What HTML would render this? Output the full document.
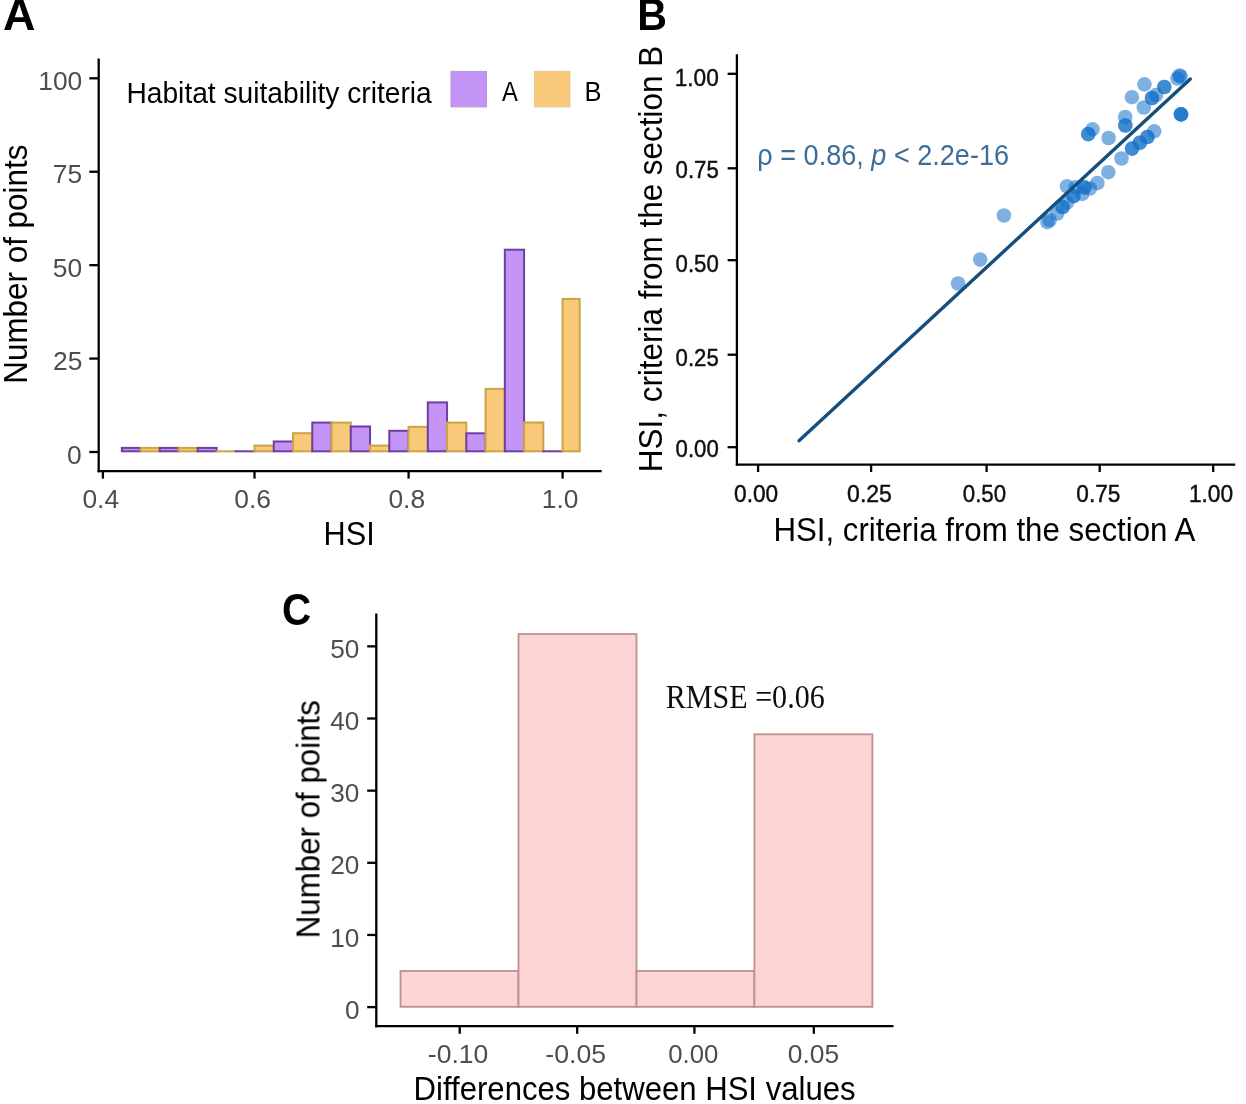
<!DOCTYPE html>
<html><head><meta charset="utf-8"><style>
html,body{margin:0;padding:0;background:#fff;}
svg{display:block;}
</style></head><body>
<svg width="1246" height="1104" viewBox="0 0 1246 1104">
<rect width="1246" height="1104" fill="#fff"/>
<defs><filter id="b" x="0" y="0" width="1" height="1"><feGaussianBlur stdDeviation="0.6"/></filter></defs><g filter="url(#b)"><text transform="translate(2.95 29.60) scale(1.0328 1)" style="font-family:'Liberation Sans', sans-serif;font-size:43.50px;fill:#000;font-weight:bold;">A</text>
<text transform="translate(27.20 383.71) rotate(-90) scale(0.9520 1)" style="font-family:'Liberation Sans', sans-serif;font-size:33.00px;fill:#000;">Number of points</text>
<line x1="98.70" y1="58.40" x2="98.70" y2="472.30" stroke="#000" stroke-width="2.30" stroke-linecap="butt"/>
<line x1="97.60" y1="471.20" x2="601.70" y2="471.20" stroke="#000" stroke-width="2.30" stroke-linecap="butt"/>
<line x1="89.30" y1="452.00" x2="98.70" y2="452.00" stroke="#000" stroke-width="2.30" stroke-linecap="butt"/>
<text transform="translate(67.07 463.60) scale(1.0000 1)" style="font-family:'Liberation Sans', sans-serif;font-size:26.40px;fill:#4d4d4d;">0</text>
<line x1="89.30" y1="358.57" x2="98.70" y2="358.57" stroke="#000" stroke-width="2.30" stroke-linecap="butt"/>
<text transform="translate(52.99 370.18) scale(1.0000 1)" style="font-family:'Liberation Sans', sans-serif;font-size:26.40px;fill:#4d4d4d;">25</text>
<line x1="89.30" y1="265.15" x2="98.70" y2="265.15" stroke="#000" stroke-width="2.30" stroke-linecap="butt"/>
<text transform="translate(52.79 276.75) scale(1.0000 1)" style="font-family:'Liberation Sans', sans-serif;font-size:26.40px;fill:#4d4d4d;">50</text>
<line x1="89.30" y1="171.72" x2="98.70" y2="171.72" stroke="#000" stroke-width="2.30" stroke-linecap="butt"/>
<text transform="translate(52.79 183.32) scale(1.0000 1)" style="font-family:'Liberation Sans', sans-serif;font-size:26.40px;fill:#4d4d4d;">75</text>
<line x1="89.30" y1="78.30" x2="98.70" y2="78.30" stroke="#000" stroke-width="2.30" stroke-linecap="butt"/>
<text transform="translate(38.27 89.90) scale(1.0000 1)" style="font-family:'Liberation Sans', sans-serif;font-size:26.40px;fill:#4d4d4d;">100</text>
<line x1="102.90" y1="471.20" x2="102.90" y2="478.60" stroke="#000" stroke-width="2.30" stroke-linecap="butt"/>
<text transform="translate(82.42 508.30) scale(1.0000 1)" style="font-family:'Liberation Sans', sans-serif;font-size:26.40px;fill:#4d4d4d;">0.4</text>
<line x1="254.50" y1="471.20" x2="254.50" y2="478.60" stroke="#000" stroke-width="2.30" stroke-linecap="butt"/>
<text transform="translate(234.28 508.30) scale(1.0000 1)" style="font-family:'Liberation Sans', sans-serif;font-size:26.40px;fill:#4d4d4d;">0.6</text>
<line x1="408.60" y1="471.20" x2="408.60" y2="478.60" stroke="#000" stroke-width="2.30" stroke-linecap="butt"/>
<text transform="translate(388.38 508.30) scale(1.0000 1)" style="font-family:'Liberation Sans', sans-serif;font-size:26.40px;fill:#4d4d4d;">0.8</text>
<line x1="562.60" y1="471.20" x2="562.60" y2="478.60" stroke="#000" stroke-width="2.30" stroke-linecap="butt"/>
<text transform="translate(541.72 508.30) scale(1.0000 1)" style="font-family:'Liberation Sans', sans-serif;font-size:26.40px;fill:#4d4d4d;">1.0</text>
<text transform="translate(323.55 544.70) scale(0.9293 1)" style="font-family:'Liberation Sans', sans-serif;font-size:33.00px;fill:#000;">HSI</text>
<text transform="translate(126.45 102.70) scale(0.9488 1)" style="font-family:'Liberation Sans', sans-serif;font-size:29.70px;fill:#000;">Habitat suitability criteria</text>
<rect x="451.00" y="71.40" width="35.50" height="35.50" fill="#c493f6" stroke="#b597d9" stroke-width="1.00"/>
<rect x="534.40" y="71.40" width="35.50" height="35.50" fill="#f9c97a" stroke="#e5c591" stroke-width="1.00"/>
<text transform="translate(502.10 100.70) scale(0.8650 1)" style="font-family:'Liberation Sans', sans-serif;font-size:27.50px;fill:#000;">A</text>
<text transform="translate(584.56 100.60) scale(0.9293 1)" style="font-family:'Liberation Sans', sans-serif;font-size:27.50px;fill:#000;">B</text>
<rect x="121.85" y="447.90" width="18.95" height="3.40" fill="#c493f6" stroke="#6c3fa0" stroke-width="2.00"/>
<rect x="140.80" y="447.90" width="18.95" height="3.40" fill="#f9c97a" stroke="#cca445" stroke-width="2.00"/>
<rect x="159.75" y="447.90" width="18.95" height="3.40" fill="#c493f6" stroke="#6c3fa0" stroke-width="2.00"/>
<rect x="178.70" y="447.90" width="18.95" height="3.40" fill="#f9c97a" stroke="#cca445" stroke-width="2.00"/>
<rect x="197.65" y="447.90" width="18.95" height="3.40" fill="#c493f6" stroke="#6c3fa0" stroke-width="2.00"/>
<line x1="215.60" y1="451.30" x2="236.55" y2="451.30" stroke="#cca445" stroke-width="2.00" stroke-linecap="butt"/>
<line x1="234.55" y1="451.30" x2="255.50" y2="451.30" stroke="#6c3fa0" stroke-width="2.00" stroke-linecap="butt"/>
<rect x="254.50" y="445.60" width="19.26" height="5.70" fill="#f9c97a" stroke="#cca445" stroke-width="2.00"/>
<rect x="273.76" y="441.50" width="19.26" height="9.80" fill="#c493f6" stroke="#6c3fa0" stroke-width="2.00"/>
<rect x="293.01" y="433.20" width="19.26" height="18.10" fill="#f9c97a" stroke="#cca445" stroke-width="2.00"/>
<rect x="312.27" y="422.60" width="19.26" height="28.70" fill="#c493f6" stroke="#6c3fa0" stroke-width="2.00"/>
<rect x="331.52" y="422.60" width="19.26" height="28.70" fill="#f9c97a" stroke="#cca445" stroke-width="2.00"/>
<rect x="350.78" y="426.50" width="19.26" height="24.80" fill="#c493f6" stroke="#6c3fa0" stroke-width="2.00"/>
<rect x="370.04" y="445.60" width="19.26" height="5.70" fill="#f9c97a" stroke="#cca445" stroke-width="2.00"/>
<rect x="389.29" y="430.80" width="19.26" height="20.50" fill="#c493f6" stroke="#6c3fa0" stroke-width="2.00"/>
<rect x="408.55" y="426.80" width="19.26" height="24.50" fill="#f9c97a" stroke="#cca445" stroke-width="2.00"/>
<rect x="427.81" y="402.40" width="19.26" height="48.90" fill="#c493f6" stroke="#6c3fa0" stroke-width="2.00"/>
<rect x="447.06" y="422.60" width="19.26" height="28.70" fill="#f9c97a" stroke="#cca445" stroke-width="2.00"/>
<rect x="466.32" y="433.30" width="19.26" height="18.00" fill="#c493f6" stroke="#6c3fa0" stroke-width="2.00"/>
<rect x="485.58" y="388.90" width="19.26" height="62.40" fill="#f9c97a" stroke="#cca445" stroke-width="2.00"/>
<rect x="504.83" y="249.70" width="19.26" height="201.60" fill="#c493f6" stroke="#6c3fa0" stroke-width="2.00"/>
<rect x="524.09" y="422.50" width="19.26" height="28.80" fill="#f9c97a" stroke="#cca445" stroke-width="2.00"/>
<line x1="542.34" y1="451.30" x2="563.60" y2="451.30" stroke="#6c3fa0" stroke-width="2.00" stroke-linecap="butt"/>
<rect x="562.60" y="298.90" width="17.10" height="152.40" fill="#f9c97a" stroke="#cca445" stroke-width="2.00"/>
<text transform="translate(637.32 29.90) scale(0.9459 1)" style="font-family:'Liberation Sans', sans-serif;font-size:43.50px;fill:#000;font-weight:bold;">B</text>
<text transform="translate(661.90 472.22) rotate(-90) scale(0.9391 1)" style="font-family:'Liberation Sans', sans-serif;font-size:33.50px;fill:#000;">HSI, criteria from the section B</text>
<line x1="736.90" y1="54.30" x2="736.90" y2="465.60" stroke="#000" stroke-width="2.30" stroke-linecap="butt"/>
<line x1="735.80" y1="464.60" x2="1235.20" y2="464.60" stroke="#000" stroke-width="2.30" stroke-linecap="butt"/>
<line x1="727.60" y1="73.80" x2="736.90" y2="73.80" stroke="#000" stroke-width="2.30" stroke-linecap="butt"/>
<text transform="translate(674.69 85.70) scale(0.9449 1)" style="font-family:'Liberation Sans', sans-serif;font-size:24.00px;fill:#111;stroke:#111;stroke-width:0.45px;">1.00</text>
<line x1="727.60" y1="168.30" x2="736.90" y2="168.30" stroke="#000" stroke-width="2.30" stroke-linecap="butt"/>
<text transform="translate(675.61 178.00) scale(0.9247 1)" style="font-family:'Liberation Sans', sans-serif;font-size:24.00px;fill:#111;stroke:#111;stroke-width:0.45px;">0.75</text>
<line x1="727.60" y1="260.20" x2="736.90" y2="260.20" stroke="#000" stroke-width="2.30" stroke-linecap="butt"/>
<text transform="translate(675.61 271.70) scale(0.9247 1)" style="font-family:'Liberation Sans', sans-serif;font-size:24.00px;fill:#111;stroke:#111;stroke-width:0.45px;">0.50</text>
<line x1="727.60" y1="354.70" x2="736.90" y2="354.70" stroke="#000" stroke-width="2.30" stroke-linecap="butt"/>
<text transform="translate(675.61 366.20) scale(0.9247 1)" style="font-family:'Liberation Sans', sans-serif;font-size:24.00px;fill:#111;stroke:#111;stroke-width:0.45px;">0.25</text>
<line x1="727.60" y1="447.20" x2="736.90" y2="447.20" stroke="#000" stroke-width="2.30" stroke-linecap="butt"/>
<text transform="translate(675.61 456.90) scale(0.9247 1)" style="font-family:'Liberation Sans', sans-serif;font-size:24.00px;fill:#111;stroke:#111;stroke-width:0.45px;">0.00</text>
<line x1="758.10" y1="464.60" x2="758.10" y2="472.00" stroke="#000" stroke-width="2.30" stroke-linecap="butt"/>
<text transform="translate(734.09 501.90) scale(0.9447 1)" style="font-family:'Liberation Sans', sans-serif;font-size:24.00px;fill:#111;stroke:#111;stroke-width:0.45px;">0.00</text>
<line x1="871.10" y1="464.60" x2="871.10" y2="472.00" stroke="#000" stroke-width="2.30" stroke-linecap="butt"/>
<text transform="translate(847.08 501.90) scale(0.9603 1)" style="font-family:'Liberation Sans', sans-serif;font-size:24.00px;fill:#111;stroke:#111;stroke-width:0.45px;">0.25</text>
<line x1="986.60" y1="464.60" x2="986.60" y2="472.00" stroke="#000" stroke-width="2.30" stroke-linecap="butt"/>
<text transform="translate(962.81 501.90) scale(0.9269 1)" style="font-family:'Liberation Sans', sans-serif;font-size:24.00px;fill:#111;stroke:#111;stroke-width:0.45px;">0.50</text>
<line x1="1099.70" y1="464.60" x2="1099.70" y2="472.00" stroke="#000" stroke-width="2.30" stroke-linecap="butt"/>
<text transform="translate(1076.30 501.90) scale(0.9425 1)" style="font-family:'Liberation Sans', sans-serif;font-size:24.00px;fill:#111;stroke:#111;stroke-width:0.45px;">0.75</text>
<line x1="1213.20" y1="464.60" x2="1213.20" y2="472.00" stroke="#000" stroke-width="2.30" stroke-linecap="butt"/>
<text transform="translate(1188.88 501.90) scale(0.9472 1)" style="font-family:'Liberation Sans', sans-serif;font-size:24.00px;fill:#111;stroke:#111;stroke-width:0.45px;">1.00</text>
<text transform="translate(773.40 540.50) scale(0.9470 1)" style="font-family:'Liberation Sans', sans-serif;font-size:33.00px;fill:#000;">HSI, criteria from the section A</text>
<circle cx="1179.5" cy="75.5" r="7.3" fill="#1470c8" fill-opacity="0.55"/>
<circle cx="1180.5" cy="76.5" r="7.3" fill="#1470c8" fill-opacity="0.55"/>
<circle cx="1177.5" cy="78.5" r="7.3" fill="#1470c8" fill-opacity="0.55"/>
<circle cx="1164.3" cy="87.0" r="7.3" fill="#1470c8" fill-opacity="0.55"/>
<circle cx="1164.3" cy="87.0" r="7.3" fill="#1470c8" fill-opacity="0.55"/>
<circle cx="1144.4" cy="84.4" r="7.3" fill="#1470c8" fill-opacity="0.55"/>
<circle cx="1152.0" cy="98.0" r="7.3" fill="#1470c8" fill-opacity="0.55"/>
<circle cx="1152.0" cy="98.0" r="7.3" fill="#1470c8" fill-opacity="0.55"/>
<circle cx="1156.0" cy="95.0" r="7.3" fill="#1470c8" fill-opacity="0.55"/>
<circle cx="1131.9" cy="97.2" r="7.3" fill="#1470c8" fill-opacity="0.55"/>
<circle cx="1143.8" cy="107.5" r="7.3" fill="#1470c8" fill-opacity="0.55"/>
<circle cx="1181.0" cy="114.4" r="7.3" fill="#1470c8" fill-opacity="0.55"/>
<circle cx="1181.0" cy="114.4" r="7.3" fill="#1470c8" fill-opacity="0.55"/>
<circle cx="1181.0" cy="114.4" r="7.3" fill="#1470c8" fill-opacity="0.55"/>
<circle cx="1125.2" cy="117.0" r="7.3" fill="#1470c8" fill-opacity="0.55"/>
<circle cx="1125.3" cy="125.5" r="7.3" fill="#1470c8" fill-opacity="0.55"/>
<circle cx="1125.3" cy="125.5" r="7.3" fill="#1470c8" fill-opacity="0.55"/>
<circle cx="1092.5" cy="129.3" r="7.3" fill="#1470c8" fill-opacity="0.55"/>
<circle cx="1088.2" cy="134.1" r="7.3" fill="#1470c8" fill-opacity="0.55"/>
<circle cx="1088.2" cy="134.1" r="7.3" fill="#1470c8" fill-opacity="0.55"/>
<circle cx="1108.6" cy="138.0" r="7.3" fill="#1470c8" fill-opacity="0.55"/>
<circle cx="1154.2" cy="131.3" r="7.3" fill="#1470c8" fill-opacity="0.55"/>
<circle cx="1147.4" cy="137.0" r="7.3" fill="#1470c8" fill-opacity="0.55"/>
<circle cx="1147.4" cy="137.0" r="7.3" fill="#1470c8" fill-opacity="0.55"/>
<circle cx="1139.7" cy="142.8" r="7.3" fill="#1470c8" fill-opacity="0.55"/>
<circle cx="1139.7" cy="142.8" r="7.3" fill="#1470c8" fill-opacity="0.55"/>
<circle cx="1132.0" cy="148.6" r="7.3" fill="#1470c8" fill-opacity="0.55"/>
<circle cx="1132.0" cy="148.6" r="7.3" fill="#1470c8" fill-opacity="0.55"/>
<circle cx="1121.5" cy="158.5" r="7.3" fill="#1470c8" fill-opacity="0.55"/>
<circle cx="1108.3" cy="172.2" r="7.3" fill="#1470c8" fill-opacity="0.55"/>
<circle cx="1097.4" cy="183.0" r="7.3" fill="#1470c8" fill-opacity="0.55"/>
<circle cx="1067.0" cy="186.3" r="7.3" fill="#1470c8" fill-opacity="0.55"/>
<circle cx="1075.7" cy="187.4" r="7.3" fill="#1470c8" fill-opacity="0.55"/>
<circle cx="1084.3" cy="187.4" r="7.3" fill="#1470c8" fill-opacity="0.55"/>
<circle cx="1084.3" cy="187.4" r="7.3" fill="#1470c8" fill-opacity="0.55"/>
<circle cx="1089.8" cy="188.5" r="7.3" fill="#1470c8" fill-opacity="0.55"/>
<circle cx="1082.2" cy="193.9" r="7.3" fill="#1470c8" fill-opacity="0.55"/>
<circle cx="1073.5" cy="196.1" r="7.3" fill="#1470c8" fill-opacity="0.55"/>
<circle cx="1073.5" cy="196.1" r="7.3" fill="#1470c8" fill-opacity="0.55"/>
<circle cx="1067.0" cy="202.6" r="7.3" fill="#1470c8" fill-opacity="0.55"/>
<circle cx="1062.6" cy="207.0" r="7.3" fill="#1470c8" fill-opacity="0.55"/>
<circle cx="1062.6" cy="207.0" r="7.3" fill="#1470c8" fill-opacity="0.55"/>
<circle cx="1057.2" cy="213.5" r="7.3" fill="#1470c8" fill-opacity="0.55"/>
<circle cx="1049.6" cy="220.0" r="7.3" fill="#1470c8" fill-opacity="0.55"/>
<circle cx="1047.4" cy="222.2" r="7.3" fill="#1470c8" fill-opacity="0.55"/>
<circle cx="1003.9" cy="215.5" r="7.3" fill="#1470c8" fill-opacity="0.55"/>
<circle cx="980.2" cy="259.6" r="7.3" fill="#1470c8" fill-opacity="0.55"/>
<circle cx="958.1" cy="283.5" r="7.3" fill="#1470c8" fill-opacity="0.55"/>
<line x1="799.00" y1="440.70" x2="1190.30" y2="79.00" stroke="#164f7d" stroke-width="3.40" stroke-linecap="round"/>
<text transform="translate(757.37 164.80) scale(0.9181 1)" style="font-family:'Liberation Sans', sans-serif;font-size:29.50px;fill:#3d6e99;">ρ = 0.86, <tspan style="font-style:italic">p</tspan> &lt; 2.2e-16</text>
<text transform="translate(281.88 624.50) scale(0.9302 1)" style="font-family:'Liberation Sans', sans-serif;font-size:43.50px;fill:#000;font-weight:bold;">C</text>
<text transform="translate(319.50 938.30) rotate(-90) scale(0.9479 1)" style="font-family:'Liberation Sans', sans-serif;font-size:33.00px;fill:#000;">Number of points</text>
<line x1="376.30" y1="613.60" x2="376.30" y2="1027.20" stroke="#000" stroke-width="2.30" stroke-linecap="butt"/>
<line x1="375.20" y1="1026.10" x2="893.50" y2="1026.10" stroke="#000" stroke-width="2.30" stroke-linecap="butt"/>
<line x1="367.20" y1="1007.10" x2="376.30" y2="1007.10" stroke="#000" stroke-width="2.30" stroke-linecap="butt"/>
<text transform="translate(344.98 1018.70) scale(1.0000 1)" style="font-family:'Liberation Sans', sans-serif;font-size:26.20px;fill:#4d4d4d;">0</text>
<line x1="367.20" y1="934.95" x2="376.30" y2="934.95" stroke="#000" stroke-width="2.30" stroke-linecap="butt"/>
<text transform="translate(330.30 946.55) scale(1.0000 1)" style="font-family:'Liberation Sans', sans-serif;font-size:26.20px;fill:#4d4d4d;">10</text>
<line x1="367.20" y1="862.80" x2="376.30" y2="862.80" stroke="#000" stroke-width="2.30" stroke-linecap="butt"/>
<text transform="translate(330.30 874.40) scale(1.0000 1)" style="font-family:'Liberation Sans', sans-serif;font-size:26.20px;fill:#4d4d4d;">20</text>
<line x1="367.20" y1="790.65" x2="376.30" y2="790.65" stroke="#000" stroke-width="2.30" stroke-linecap="butt"/>
<text transform="translate(330.30 802.25) scale(1.0000 1)" style="font-family:'Liberation Sans', sans-serif;font-size:26.20px;fill:#4d4d4d;">30</text>
<line x1="367.20" y1="718.50" x2="376.30" y2="718.50" stroke="#000" stroke-width="2.30" stroke-linecap="butt"/>
<text transform="translate(330.30 730.10) scale(1.0000 1)" style="font-family:'Liberation Sans', sans-serif;font-size:26.20px;fill:#4d4d4d;">40</text>
<line x1="367.20" y1="646.35" x2="376.30" y2="646.35" stroke="#000" stroke-width="2.30" stroke-linecap="butt"/>
<text transform="translate(330.30 657.95) scale(1.0000 1)" style="font-family:'Liberation Sans', sans-serif;font-size:26.20px;fill:#4d4d4d;">50</text>
<line x1="459.70" y1="1026.10" x2="459.70" y2="1033.80" stroke="#000" stroke-width="2.30" stroke-linecap="butt"/>
<text transform="translate(427.84 1063.20) scale(1.0492 1)" style="font-family:'Liberation Sans', sans-serif;font-size:25.30px;fill:#4d4d4d;">-0.10</text>
<line x1="577.20" y1="1026.10" x2="577.20" y2="1033.80" stroke="#000" stroke-width="2.30" stroke-linecap="butt"/>
<text transform="translate(545.33 1063.20) scale(1.0528 1)" style="font-family:'Liberation Sans', sans-serif;font-size:25.30px;fill:#4d4d4d;">-0.05</text>
<line x1="694.40" y1="1026.10" x2="694.40" y2="1033.80" stroke="#000" stroke-width="2.30" stroke-linecap="butt"/>
<text transform="translate(668.17 1063.20) scale(1.0188 1)" style="font-family:'Liberation Sans', sans-serif;font-size:25.30px;fill:#4d4d4d;">0.00</text>
<line x1="813.80" y1="1026.10" x2="813.80" y2="1033.80" stroke="#000" stroke-width="2.30" stroke-linecap="butt"/>
<text transform="translate(787.74 1063.20) scale(1.0442 1)" style="font-family:'Liberation Sans', sans-serif;font-size:25.30px;fill:#4d4d4d;">0.05</text>
<text transform="translate(413.61 1099.80) scale(0.9511 1)" style="font-family:'Liberation Sans', sans-serif;font-size:32.70px;fill:#000;">Differences between HSI values</text>
<rect x="400.50" y="971.00" width="118.00" height="35.80" fill="#fcd4d3" stroke="#bf8f8c" stroke-width="1.80"/>
<rect x="518.50" y="634.00" width="118.00" height="372.80" fill="#fcd4d3" stroke="#bf8f8c" stroke-width="1.80"/>
<rect x="636.50" y="971.00" width="117.90" height="35.80" fill="#fcd4d3" stroke="#bf8f8c" stroke-width="1.80"/>
<rect x="754.40" y="734.30" width="118.00" height="272.50" fill="#fcd4d3" stroke="#bf8f8c" stroke-width="1.80"/>
<text transform="translate(665.70 707.90) scale(0.9175 1)" style="font-family:'Liberation Serif', serif;font-size:32.80px;fill:#111;">RMSE =0.06</text>
</g></svg>
</body></html>
